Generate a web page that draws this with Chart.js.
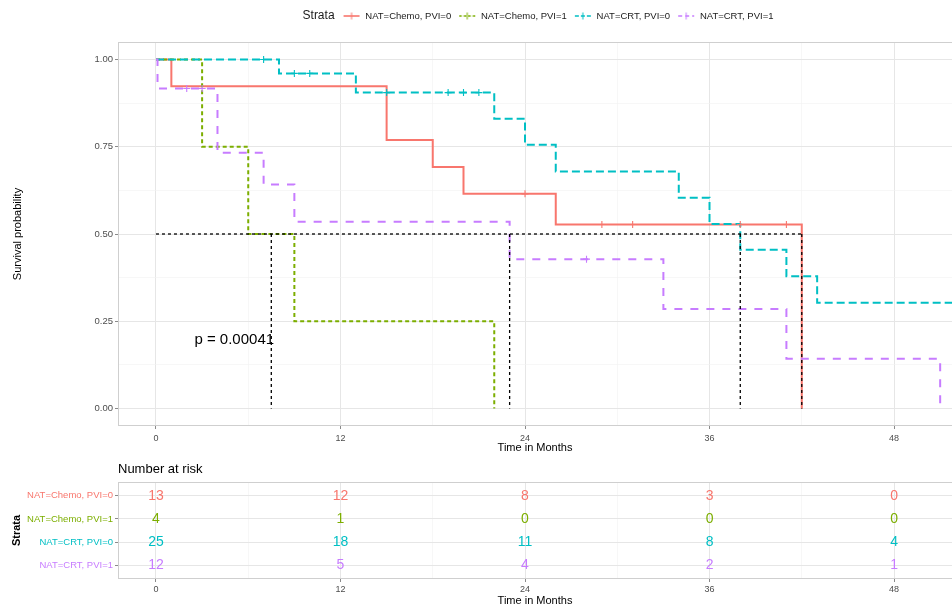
<!DOCTYPE html>
<html>
<head>
<meta charset="utf-8">
<script src="https://cdn.jsdelivr.net/npm/chart.js@4.4.1/dist/chart.umd.min.js"></script>
<style>
  html, body { margin: 0; padding: 0; background: #ffffff; }
  #wrap { position: relative; width: 952px; height: 605px; overflow: hidden; background: #ffffff; }
  #km { position: absolute; left: 0; top: 0; }
  #risk { position: absolute; left: 0; top: 455px; }
</style>
</head>
<body>
<div id="wrap">
  <canvas id="km" width="952" height="455"></canvas>
  <canvas id="risk" width="952" height="156"></canvas>
</div>
<script>
// ---------- data ----------
const strata = ['NAT=Chemo, PVI=0', 'NAT=Chemo, PVI=1', 'NAT=CRT, PVI=0', 'NAT=CRT, PVI=1'];
const strataColors = ['#F8766D', '#7CAE00', '#00BFC4', '#C77CFF'];

// Kaplan-Meier steps (time in months, survival after the step)
const chemo0Time = [0, 1, 15, 18, 20, 26, 42];
const chemo0Surv = [1, 0.923, 0.769, 0.692, 0.615, 0.527, 0];
const chemo0CensorTime = [24, 29, 31, 38, 41];
const chemo0CensorSurv = [0.615, 0.527, 0.527, 0.527, 0.527];

const chemo1Time = [0, 3, 6, 9, 22];
const chemo1Surv = [1, 0.75, 0.5, 0.25, 0];
const chemo1CensorTime = [];
const chemo1CensorSurv = [];

const crt0Time = [0, 8, 13, 22, 24, 26, 34, 36, 38, 41, 43, 53];
const crt0Surv = [1, 0.96, 0.905, 0.83, 0.756, 0.679, 0.604, 0.529, 0.455, 0.379, 0.303, 0.303];
const crt0CensorTime = [7, 9, 10, 15, 19, 20, 21];
const crt0CensorSurv = [1, 0.96, 0.96, 0.905, 0.905, 0.905, 0.905];

const crt1Time = [0, 0.1, 4, 7, 9, 23, 33, 41, 51];
const crt1Surv = [1, 0.917, 0.733, 0.642, 0.535, 0.428, 0.285, 0.143, 0];
const crt1CensorTime = [2, 3, 28];
const crt1CensorSurv = [0.917, 0.917, 0.428];

// median survival per stratum
const medianTimes = [42, 7.5, 38, 23];

// axis ticks
const timeTicks = [0, 12, 24, 36, 48];
const minorTimeTicks = [6, 18, 30, 42];
const survTicks = [0, 0.25, 0.5, 0.75, 1];
const minorSurvTicks = [0.125, 0.375, 0.625, 0.875];

// number at risk at each time tick
const riskChemo0 = [13, 12, 8, 3, 0];
const riskChemo1 = [4, 1, 0, 0, 0];
const riskCrt0 = [25, 18, 11, 8, 4];
const riskCrt1 = [12, 5, 4, 2, 1];

const pValueText = 'p = 0.00041';
const pValueAt = { x: 2.5, y: 0.196 };

// ---------- styling ----------
const FONT = "'Liberation Sans', Arial, Helvetica, sans-serif";
Chart.defaults.font.family = FONT;
Chart.defaults.color = '#4d4d4d';

const curveDash = [[], [4, 3], [8, 4], [8, 8]];
const legendDash = [[], [2.5, 2], [4, 2], [4, 3]];
const GRID_MAJOR = '#e6e6e6';
const GRID_MINOR = '#f1f1f1';
const TICK_MARK = '#8a8a8a';

const curves = [
  { time: chemo0Time, surv: chemo0Surv, cTime: chemo0CensorTime, cSurv: chemo0CensorSurv },
  { time: chemo1Time, surv: chemo1Surv, cTime: chemo1CensorTime, cSurv: chemo1CensorSurv },
  { time: crt0Time, surv: crt0Surv, cTime: crt0CensorTime, cSurv: crt0CensorSurv },
  { time: crt1Time, surv: crt1Surv, cTime: crt1CensorTime, cSurv: crt1CensorSurv }
];
const riskRows = [riskChemo0, riskChemo1, riskCrt0, riskCrt1];

const toXY = (xs, ys) => xs.map((x, i) => ({ x, y: ys[i] }));

// shared time axis: major + minor gridlines, labels only on majors
function timeAxis(height, tickPad, titlePadBottom) {
  return {
    type: 'linear',
    min: -2.47,
    max: 51.77,
    afterBuildTicks: s => {
      s.ticks = [...timeTicks, ...minorTimeTicks].sort((a, b) => a - b).map(v => ({ value: v }));
    },
    afterFit: s => { s.height = height; s.paddingLeft = 0; s.paddingRight = 0; },
    ticks: {
      autoSkip: false, maxRotation: 0, padding: tickPad,
      font: { size: 9 }, color: '#4d4d4d',
      callback: v => timeTicks.includes(v) ? String(v) : ''
    },
    grid: {
      drawTicks: true, tickLength: 3,
      color: c => timeTicks.includes(c.tick.value) ? GRID_MAJOR : GRID_MINOR,
      lineWidth: c => timeTicks.includes(c.tick.value) ? 1 : 0.6,
      tickColor: c => timeTicks.includes(c.tick.value) ? TICK_MARK : 'rgba(0,0,0,0)'
    },
    border: { display: false },
    title: { display: true, text: 'Time in Months', color: '#000', font: { size: 11 }, padding: { top: 0, bottom: titlePadBottom } }
  };
}

// legend glyph: short line with a censoring cross
function legendSymbol(color, dash) {
  const c = document.createElement('canvas');
  c.width = 18; c.height = 10;
  const g = c.getContext('2d');
  g.strokeStyle = color;
  g.lineWidth = 1.6;
  g.setLineDash(dash);
  g.beginPath(); g.moveTo(1, 5); g.lineTo(17, 5); g.stroke();
  g.setLineDash([]);
  g.lineWidth = 1;
  g.beginPath(); g.moveTo(9, 1.5); g.lineTo(9, 8.5); g.stroke();
  return c;
}
const legendSymbols = strata.map((s, i) => legendSymbol(strataColors[i], legendDash[i]));

// ---------- survival chart ----------
const kmDatasets = [];
curves.forEach((c, i) => {
  kmDatasets.push({
    label: strata[i],
    data: toXY(c.time, c.surv),
    stepped: 'before',
    borderColor: strataColors[i],
    borderWidth: 2,
    borderDash: curveDash[i],
    pointRadius: 0,
    fill: false,
    order: 20 - i
  });
});
curves.forEach((c, i) => {
  kmDatasets.push({
    label: strata[i] + ' (censored)',
    data: toXY(c.cTime, c.cSurv),
    showLine: false,
    pointStyle: 'cross',
    pointRadius: 3.5,
    pointBorderWidth: 1.1,
    borderColor: strataColors[i],
    backgroundColor: strataColors[i],
    order: 10 - i
  });
});
const medianStyle = { borderColor: '#000', borderWidth: 1.3, borderDash: [3, 3], pointRadius: 0, fill: false, order: 1 };
kmDatasets.push(Object.assign({
  label: 'median',
  data: [{ x: 0, y: 0.5 }, { x: Math.max(...medianTimes), y: 0.5 }]
}, medianStyle));
medianTimes.forEach((m, i) => {
  kmDatasets.push(Object.assign({
    label: 'median ' + strata[i],
    data: [{ x: m, y: 0.5 }, { x: m, y: 0 }]
  }, medianStyle));
});

const legendPlacement = {
  id: 'legendPlacement',
  afterLayout(chart) {
    const lg = chart.legend;
    if (!lg || !lg.lineWidths) return;
    const pad = lg.options.labels.padding;
    const fs = lg.options.labels.font.size;
    const ctx = chart.ctx;
    ctx.save();
    ctx.font = '12px ' + FONT;
    const titleW = ctx.measureText('Strata').width;
    ctx.restore();
    const itemsW = lg.lineWidths[0] - pad;
    const total = titleW + 8 + itemsW;
    const area = chart.chartArea;
    const start = (area.left + area.right) / 2 + 3 - total / 2;
    const w = lg.right - lg.left, h = lg.bottom - lg.top;
    lg.left = start + titleW + 8 - pad;
    lg.right = lg.left + w + 600;
    lg.top = 16 - pad - fs / 2;
    lg.bottom = lg.top + h;
    chart.$strataTitle = { x: start, y: 16 };
  },
  afterDraw(chart) {
    const t = chart.$strataTitle;
    if (!t) return;
    const ctx = chart.ctx;
    ctx.save();
    ctx.font = '12px ' + FONT;
    ctx.fillStyle = '#1a1a1a';
    ctx.textAlign = 'left';
    ctx.textBaseline = 'middle';
    ctx.fillText('Strata', t.x, t.y);
    ctx.restore();
  }
};

const panelBorder = {
  id: 'panelBorder',
  afterDatasetsDraw(chart) {
    const a = chart.chartArea, ctx = chart.ctx;
    ctx.save();
    ctx.strokeStyle = '#cfcfcf';
    ctx.lineWidth = 1;
    ctx.strokeRect(a.left + 0.5, a.top + 0.5, a.right - a.left, a.bottom - a.top - 1);
    ctx.restore();
  }
};

const pValueLabel = {
  id: 'pValueLabel',
  afterDatasetsDraw(chart) {
    const ctx = chart.ctx;
    const x = chart.scales.x.getPixelForValue(pValueAt.x);
    const y = chart.scales.y.getPixelForValue(pValueAt.y);
    ctx.save();
    ctx.font = '15px ' + FONT;
    ctx.fillStyle = '#000';
    ctx.textAlign = 'left';
    ctx.textBaseline = 'middle';
    ctx.fillText(pValueText, x, y);
    ctx.restore();
  }
};

new Chart(document.getElementById('km'), {
  type: 'line',
  data: { datasets: kmDatasets },
  options: {
    responsive: false,
    animation: false,
    devicePixelRatio: 1,
    events: [],
    layout: { autoPadding: false, padding: { top: 15.5, left: 0, right: 0, bottom: 0 } },
    plugins: {
      tooltip: { enabled: false },
      legend: {
        display: true,
        position: 'top',
        align: 'start',
        labels: {
          usePointStyle: true,
          pointStyleWidth: 18,
          padding: 7,
          font: { size: 9.5 },
          color: '#1a1a1a',
          generateLabels: () => strata.map((s, i) => ({
            text: s,
            pointStyle: legendSymbols[i],
            fillStyle: strataColors[i],
            strokeStyle: strataColors[i],
            lineWidth: 0,
            hidden: false,
            datasetIndex: i,
            fontColor: '#1a1a1a'
          }))
        }
      }
    },
    scales: {
      x: timeAxis(29, 4, 0),
      y: {
        type: 'linear',
        min: -0.05,
        max: 1.05,
        afterBuildTicks: s => {
          s.ticks = [...survTicks, ...minorSurvTicks].sort((a, b) => a - b).map(v => ({ value: v }));
        },
        afterFit: s => { s.width = 118; },
        ticks: {
          autoSkip: false, padding: 2,
          font: { size: 9.5 }, color: '#4d4d4d',
          callback: v => survTicks.includes(v) ? v.toFixed(2) : ''
        },
        grid: {
          drawTicks: true, tickLength: 3,
          color: c => survTicks.includes(c.tick.value) ? GRID_MAJOR : GRID_MINOR,
          lineWidth: c => survTicks.includes(c.tick.value) ? 1 : 0.6,
          tickColor: c => survTicks.includes(c.tick.value) ? TICK_MARK : 'rgba(0,0,0,0)'
        },
        border: { display: false },
        title: { display: true, text: 'Survival probability', color: '#000', font: { size: 11 }, padding: { top: 11, bottom: 0 } }
      }
    }
  },
  plugins: [legendPlacement, panelBorder, pValueLabel]
});

// ---------- number-at-risk table ----------
const riskDatasets = riskRows.map((row, i) => ({
  label: strata[i],
  data: timeTicks.map((t, j) => ({ x: t, y: i + 1, n: row[j] })),
  showLine: false,
  pointRadius: 0
}));

const riskNumbers = {
  id: 'riskNumbers',
  afterDatasetsDraw(chart) {
    const ctx = chart.ctx;
    ctx.save();
    ctx.font = '14px ' + FONT;
    ctx.textAlign = 'center';
    ctx.textBaseline = 'middle';
    chart.data.datasets.forEach((ds, i) => {
      const meta = chart.getDatasetMeta(i);
      ctx.fillStyle = strataColors[i];
      meta.data.forEach((el, j) => ctx.fillText(String(ds.data[j].n), el.x, el.y));
    });
    ctx.restore();
  }
};

new Chart(document.getElementById('risk'), {
  type: 'line',
  data: { datasets: riskDatasets },
  options: {
    responsive: false,
    animation: false,
    devicePixelRatio: 1,
    events: [],
    layout: { autoPadding: false, padding: { top: 0, left: 0, right: 0, bottom: 0 } },
    plugins: {
      legend: { display: false },
      tooltip: { enabled: false },
      title: {
        display: true,
        text: 'Number at risk',
        position: 'top',
        align: 'start',
        fullSize: false,
        color: '#000',
        font: { size: 13, weight: 'normal' },
        padding: { top: 6.2, bottom: 5.2 }
      }
    },
    scales: {
      x: timeAxis(32, 2, 3),
      y: {
        type: 'linear',
        min: 0.4,
        max: 4.6,
        reverse: true,
        afterBuildTicks: s => { s.ticks = strata.map((_, i) => ({ value: i + 1 })); },
        afterFit: s => { s.width = 118; },
        ticks: {
          autoSkip: false, padding: 2,
          font: { size: 9.5 },
          color: c => strataColors[Math.round(c.tick.value) - 1],
          callback: v => strata[Math.round(v) - 1]
        },
        grid: { drawTicks: true, tickLength: 3, color: GRID_MAJOR, lineWidth: 1, tickColor: TICK_MARK },
        border: { display: false },
        title: { display: true, text: 'Strata', color: '#000', font: { size: 11, weight: 'bold' }, padding: { top: 10.4, bottom: 0 } }
      }
    }
  },
  plugins: [panelBorder, riskNumbers]
});
</script>
</body>
</html>
